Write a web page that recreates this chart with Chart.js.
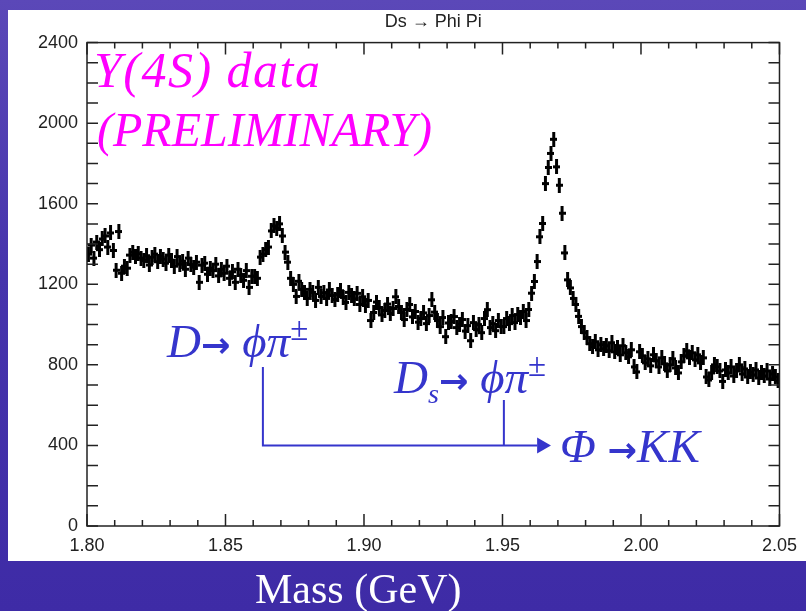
<!DOCTYPE html>
<html>
<head>
<meta charset="utf-8">
<script src="https://cdn.jsdelivr.net/npm/chart.js@4.4.1/dist/chart.umd.min.js"></script>
<style>
html, body { margin: 0; padding: 0; }
body {
    width: 806px; height: 611px; position: relative; overflow: hidden;
    background: linear-gradient(180deg, #5b48b8 0%, #4634ac 45%, #3e2ba6 100%);
}
#panel { position: absolute; left: 8px; top: 10px; width: 798px; height: 551px; background: #fff; }
#chart { position: absolute; left: 0; top: 0; }
.note {
    position: absolute; white-space: nowrap; line-height: 1;
    font-family: "Liberation Serif", "Times New Roman", serif; font-style: italic;
}
.pink { color: #ff00ff; font-size: 48px; }
.blue { color: #3535cc; font-size: 47px; }
.arr { font-family: "DejaVu Sans", sans-serif; font-style: normal; font-weight: bold; font-size: 0.75em; }
.pm { font-size: 0.7em; font-style: normal; }
#xlabel { position: absolute; left: 255px; top: 568px; color: #fff; font: 42px "Liberation Serif", serif; line-height: 1; }
</style>
</head>
<body>
<div id="panel"></div>
<canvas id="chart" width="806" height="611"></canvas>

<div class="note pink" style="left:94px;top:45px;font-size:50px;letter-spacing:1.5px">Y(4S) data</div>
<div class="note pink" style="left:97px;top:106px">(PRELIMINARY)</div>
<div class="note blue" style="left:167px;top:313px">D<span class="arr">→</span> ϕπ<sup class="pm">±</sup></div>
<div class="note blue" style="left:394px;top:349px">D<sub style="font-size:0.6em">s</sub><span class="arr">→</span> ϕπ<sup class="pm">±</sup></div>
<div class="note blue" style="left:560px;top:423px">Φ <span class="arr">→</span>KK</div>
<div id="xlabel">Mass (GeV)</div>

<script>
// binning: 1 MeV bins from 1.800 to 2.050 GeV
const binLow = 1.800;
const binWidth = 0.001;

// counts per bin
const counts1800 = [
    1350, 1395, 1330, 1410, 1372, 1425, 1440, 1385, 1455, 1368,
    1270, 1462, 1255, 1290, 1280, 1345, 1360, 1338, 1352, 1330,
    1318, 1342, 1296, 1335, 1350, 1312, 1340, 1325, 1305, 1345,
    1320, 1290, 1338, 1300, 1315, 1275, 1330, 1298, 1285, 1310,
    1210, 1295, 1305, 1250, 1280, 1268, 1300, 1242, 1275, 1255
];
const counts1850 = [
    1290, 1230, 1262, 1210, 1275, 1245, 1220, 1268, 1185, 1240,
    1240, 1230, 1335, 1350, 1372, 1385, 1465, 1490, 1478, 1500,
    1440, 1360, 1310, 1230, 1200, 1140, 1215, 1175, 1160, 1130,
    1175, 1160, 1120, 1185, 1140, 1158, 1130, 1172, 1145, 1125,
    1150, 1168, 1135, 1110, 1160, 1142, 1128, 1155, 1100, 1138
];
const counts1900 = [
    1095, 1120, 1020, 1060, 1112, 1085, 1048, 1070, 1102, 1055,
    1080, 1138, 1090, 1060, 1025, 1075, 1100, 1038, 1065, 1012,
    1030, 1058, 1005, 1045, 1123, 1062, 1020, 990, 1035, 940,
    1008, 1015, 1040, 985, 1002, 1025, 968, 995, 920, 1010,
    975, 1000, 960, 1030, 1074, 985, 1005, 970, 1020, 990
];
const counts1950 = [
    990, 1030, 1005, 1045, 1010, 1050, 1035, 1065, 1020, 1075,
    1156, 1214, 1313, 1436, 1502, 1700, 1780, 1850, 1920, 1783,
    1692, 1553, 1356, 1222, 1182, 1130, 1100, 1041, 990, 960,
    935, 905, 890, 915, 875, 900, 880, 895, 870, 910,
    865, 885, 850, 895, 860, 840, 875, 790, 765, 865
];
const counts2000 = [
    845, 810, 830, 795, 850, 820, 790, 835, 805, 770,
    800, 830, 785, 760, 815, 845, 870, 835, 860, 825,
    850, 810, 835, 740, 725, 760, 800, 790, 770, 718,
    775, 760, 790, 745, 770, 800, 755, 780, 740, 765,
    750, 775, 735, 760, 745, 770, 730, 755, 740, 720
];

const xTicks = [1.80, 1.85, 1.90, 1.95, 2.00, 2.05];
const yTicks = [0, 400, 800, 1200, 1600, 2000, 2400];

const counts = counts1800.concat(counts1850, counts1900, counts1950, counts2000);
const points = counts.map((c, i) => ({ x: binLow + (i + 0.5) * binWidth, y: c }));

// cross marker (counts error bar + bin width)
const mark = document.createElement("canvas");
mark.width = 7; mark.height = 15;
const mc = mark.getContext("2d");
mc.fillStyle = "#000";
mc.fillRect(2, 0, 3, 15);
mc.fillRect(0, 6, 7, 3);

const frame = {
    id: "frame",
    afterDatasetsDraw(chart) {
        const { ctx, chartArea: a, scales: { x, y } } = chart;
        ctx.save();
        ctx.strokeStyle = "#222";
        ctx.lineWidth = 1.5;
        ctx.strokeRect(a.left, a.top, a.right - a.left, a.bottom - a.top);
        ctx.beginPath();
        for (let k = 0; k <= 25; k++) {
            const px = x.getPixelForValue(1.80 + k * 0.01);
            const len = k % 5 === 0 ? 12 : 6;
            ctx.moveTo(px, a.bottom); ctx.lineTo(px, a.bottom - len);
            ctx.moveTo(px, a.top); ctx.lineTo(px, a.top + len);
        }
        for (let v = 0; v <= 2400; v += 100) {
            const py = y.getPixelForValue(v);
            ctx.moveTo(a.left, py); ctx.lineTo(a.left + 11, py);
            ctx.moveTo(a.right, py); ctx.lineTo(a.right - 11, py);
        }
        ctx.stroke();
        ctx.restore();
    },
    afterDraw(chart) {
        // decay-chain connector lines
        const { ctx, scales: { x, y } } = chart;
        const xd = x.getPixelForValue(1.8635), xs = x.getPixelForValue(1.9505);
        const yb = y.getPixelForValue(400);
        const xe = x.getPixelForValue(1.9625), xt = x.getPixelForValue(1.9675);
        ctx.save();
        ctx.strokeStyle = "#3535cc";
        ctx.fillStyle = "#3535cc";
        ctx.lineWidth = 2;
        ctx.beginPath();
        ctx.moveTo(xd, y.getPixelForValue(790)); ctx.lineTo(xd, yb); ctx.lineTo(xe, yb);
        ctx.moveTo(xs, y.getPixelForValue(625)); ctx.lineTo(xs, yb);
        ctx.stroke();
        ctx.beginPath();
        ctx.moveTo(xe, yb - 8); ctx.lineTo(xt, yb); ctx.lineTo(xe, yb + 8);
        ctx.closePath();
        ctx.fill();
        ctx.restore();
    }
};

new Chart(document.getElementById("chart"), {
    type: "scatter",
    data: {
        datasets: [{
            data: points,
            pointStyle: mark,
            pointRadius: 3,
            borderColor: "#000",
            backgroundColor: "#000"
        }]
    },
    options: {
        responsive: false,
        animation: false,
        devicePixelRatio: 1,
        events: [],
        layout: { padding: { top: 0, right: 26, left: 0, bottom: 0 } },
        plugins: {
            legend: { display: false },
            tooltip: { enabled: false },
            title: {
                display: true,
                fullSize: false,
                text: "Ds \u2192 Phi Pi",
                color: "#222",
                font: { family: "'Liberation Sans', Arial, sans-serif", size: 18, weight: "normal" },
                padding: { top: 11, bottom: 10 }
            }
        },
        scales: {
            x: {
                type: "linear",
                min: 1.80, max: 2.05,
                afterBuildTicks: s => { s.ticks = xTicks.map(v => ({ value: v })); },
                afterFit: s => { s.height = 85; },
                grid: { display: false, drawTicks: false },
                border: { display: false },
                ticks: {
                    callback: v => v.toFixed(2),
                    maxRotation: 0, autoSkip: false, padding: 9,
                    color: "#222",
                    font: { family: "'Liberation Sans', Arial, sans-serif", size: 18 }
                }
            },
            y: {
                min: 0, max: 2400,
                afterBuildTicks: s => { s.ticks = yTicks.map(v => ({ value: v })); },
                afterFit: s => { s.width = 87; },
                grid: { display: false, drawTicks: false },
                border: { display: false },
                ticks: {
                    callback: v => String(v),
                    padding: 9,
                    color: "#222",
                    font: { family: "'Liberation Sans', Arial, sans-serif", size: 18 }
                }
            }
        }
    },
    plugins: [frame]
});
</script>
</body>
</html>
